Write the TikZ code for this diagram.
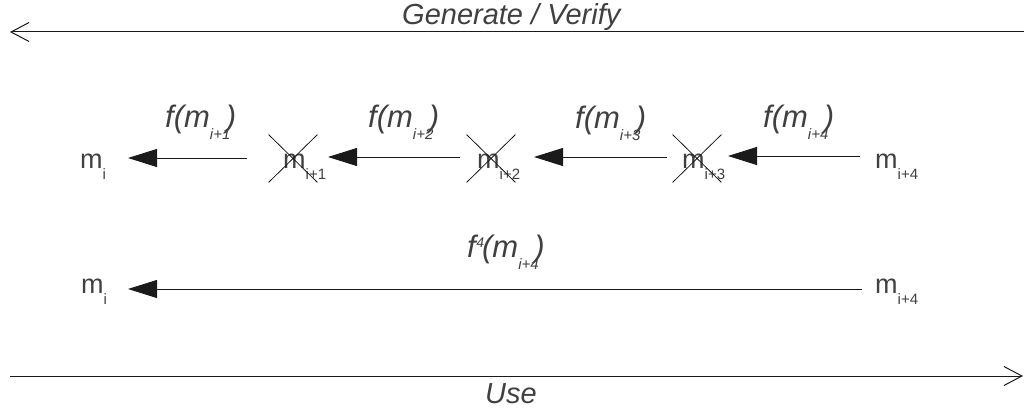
\documentclass[tikz,border=0pt]{standalone}
\usepackage{fontspec}
\setmainfont{Liberation Sans}
\usetikzlibrary{arrows.meta,shapes.misc}
\definecolor{ink}{HTML}{404040}
\definecolor{wire}{HTML}{1A1A1A}
% m with a lowered subscript
\newcommand{\msym}[1]{m\raisebox{-11pt}{\fontsize{15}{15}\selectfont #1}}
% italic f(m_sub) label, the closing bracket tucked against the subscript
\newcommand{\flab}[2]{\itshape f#1(m\raisebox{-12pt}{\fontsize{15}{15}\selectfont\rlap{#2}}\hspace{16pt})}
\tikzset{
  mtext/.style={anchor=base west, inner sep=0pt, text=ink, font=\fontsize{27}{27}\selectfont},
  ftext/.style={anchor=base west, inner sep=0pt, text=ink, font=\fontsize{31}{31}\selectfont},
  dirtext/.style={anchor=base west, inner sep=0pt, text=ink, font=\fontsize{29}{29}\selectfont\itshape},
  fnarrow/.style={draw=wire, line width=0.9pt, -{Triangle[length=29pt,width=18pt]}},
  dirarrow/.style={draw=wire, line width=1pt, -{Straight Barb[length=18pt,width=19pt,line width=1pt]}},
  crossmark/.style={cross out, draw=wire, line width=0.8pt, minimum width=48pt, minimum height=47pt, inner sep=0pt}
}
\begin{document}
\begin{tikzpicture}[x=1pt,y=-1pt]
\useasboundingbox (0,0) rectangle (1024,414);

% direction arrows
\coordinate (gvR) at (1024,32);
\coordinate (gvL) at (10,32);
\coordinate (useL) at (10,376);
\coordinate (useR) at (1023,376);
\draw[dirarrow] (gvR) -- (gvL);
\draw[dirarrow] (useL) -- (useR);
\node[dirtext] (gv) at (402,25) {Generate / Verify};
\node[dirtext] (use) at (485,403) {Use};

% step-by-step chain
\node[mtext] (m0) at (80,168) {\msym{i}};
\node[mtext] (m1) at (283,168) {\msym{i+1}};
\node[mtext] (m2) at (477,168) {\msym{i+2}};
\node[mtext] (m3) at (682,168) {\msym{i+3}};
\node[mtext] (m4) at (875,168) {\msym{i+4}};
\node[crossmark] (x1) at (293,158.5) {};
\node[crossmark] (x2) at (491,158.5) {};
\node[crossmark] (x3) at (697,158.5) {};

\coordinate (t1) at (247,158); \coordinate (h1) at (128,158);
\coordinate (t2) at (460,157); \coordinate (h2) at (328,157);
\coordinate (t3) at (667,157); \coordinate (h3) at (534,157);
\coordinate (t4) at (860,156); \coordinate (h4) at (728,156);
\draw[fnarrow] (t1) -- (h1);
\draw[fnarrow] (t2) -- (h2);
\draw[fnarrow] (t3) -- (h3);
\draw[fnarrow] (t4) -- (h4);

\node[ftext] (f1) at (165,128) {\flab{}{i+1}};
\node[ftext] (f2) at (368,128) {\flab{}{i+2}};
\node[ftext] (f3) at (575,129) {\flab{}{i+3}};
\node[ftext] (f4) at (763,128) {\flab{}{i+4}};

% single combined step
\node[mtext] (n0) at (81,293) {\msym{i}};
\node[mtext] (n4) at (875,293) {\msym{i+4}};
\coordinate (t5) at (862,289); \coordinate (h5) at (128,289);
\draw[fnarrow] (t5) -- (h5);
\node[ftext] (f5) at (467,257) {\flab{\kern0.5pt\raisebox{10pt}{\fontsize{14}{14}\selectfont 4}\kern-2pt}{i+4}};
\end{tikzpicture}
\end{document}
